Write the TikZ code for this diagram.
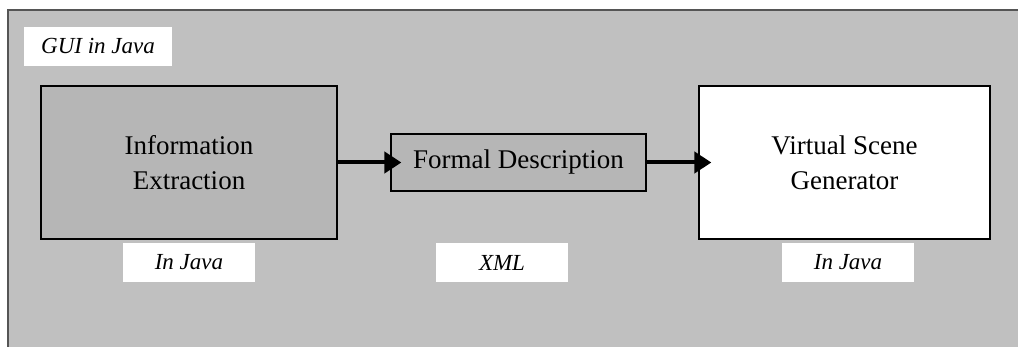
\documentclass[tikz,border=0pt]{standalone}
\usepackage{fontspec}
\setmainfont{Liberation Serif}
\usepackage{xcolor}
\usetikzlibrary{arrows.meta}
\definecolor{panelgray}{HTML}{C0C0C0}
\definecolor{boxgray}{HTML}{B6B6B6}
\definecolor{rimgray}{HTML}{555555}

\begin{document}
\begin{tikzpicture}[x=0.5pt, y=-0.5pt,
    block/.style={draw=black, line width=0.6pt, align=center, inner sep=0pt,
      font=\fontsize{13.5}{17.5}\selectfont},
    tag/.style={fill=white, inner sep=0pt, minimum width=66pt, minimum height=19.5pt,
      font=\fontsize{11.5}{14}\selectfont\itshape},
    flow/.style={line width=2pt, -{Triangle[length=8.5pt,width=10.5pt]}}]
  \useasboundingbox (0,0) rectangle (1018,347);
  % GUI panel, open to the right and bottom
  \fill[panelgray] (8,10) rectangle (1018,347);
  \draw[rimgray, line width=0.6pt] (1018,10) -- (8,10) -- (8,347);
  \node[tag, minimum width=74pt] (gui) at (98,46.5) {GUI in Java};
  % the three stages
  \node[block, fill=boxgray, minimum width=148pt, minimum height=76.5pt] (extract) at (189,162.5) {Information\\Extraction};
  \node[block, fill=boxgray, minimum width=127.5pt, minimum height=28.5pt] (formal) at (518.5,162.5) {Formal Description};
  \node[block, fill=white, minimum width=145.5pt, minimum height=76.5pt] (scene) at (844.5,162.5) {Virtual Scene\\Generator};
  % what each stage is written in
  \node[tag] (javaA) at (189,262.5) {In Java};
  \node[tag] (xml) at (502,262.5) {XML};
  \node[tag] (javaB) at (848,262.5) {In Java};
  \draw[flow] (extract.east) -- ([xshift=5.5pt]formal.west);
  \draw[flow] (formal.east) -- ([xshift=6.5pt]scene.west);
\end{tikzpicture}
\end{document}
